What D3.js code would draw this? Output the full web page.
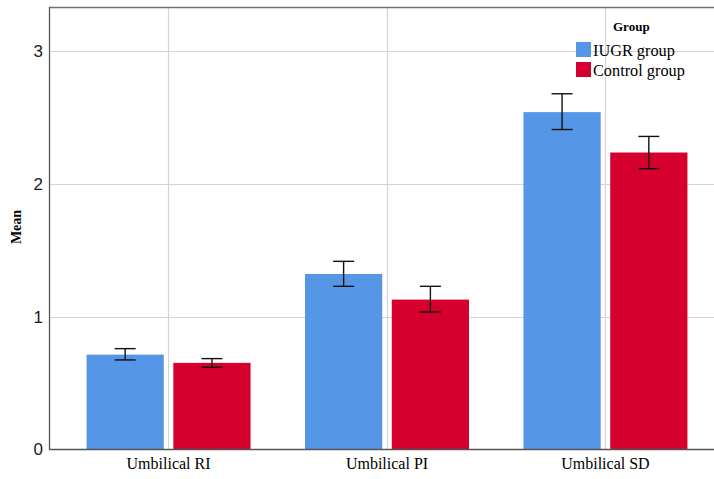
<!DOCTYPE html>
<html>
<head>
<meta charset="utf-8">
<script src="https://cdn.jsdelivr.net/npm/d3@7"></script>
<style>
  html, body { margin: 0; padding: 0; background: #fff; }
  svg { display: block; }
</style>
</head>
<body>
<svg id="chart" width="714" height="479"></svg>
<script>
// Umbilical Doppler indices: group means with error bars
const categories = ["Umbilical RI", "Umbilical PI", "Umbilical SD"];
const groups = ["IUGR group", "Control group"];
const iugrMean = [0.714, 1.321, 2.539];
const iugrLow = [0.674, 1.228, 2.408];
const iugrHigh = [0.759, 1.416, 2.677];
const controlMean = [0.652, 1.128, 2.235];
const controlLow = [0.619, 1.035, 2.113];
const controlHigh = [0.684, 1.228, 2.356];
const yTicks = [0, 1, 2, 3];
const colors = ["#5596e6", "#d6002f"];

const rows = [];
categories.forEach((c, i) => {
  rows.push({ cat: c, group: groups[0], mean: iugrMean[i], lo: iugrLow[i], hi: iugrHigh[i] });
  rows.push({ cat: c, group: groups[1], mean: controlMean[i], lo: controlLow[i], hi: controlHigh[i] });
});

const svg = d3.select("#chart");
const plotLeft = 49, plotTop = 7, plotBottom = 449.5, plotRight = 724;

const y = d3.scaleLinear().domain([0, 3.33]).range([plotBottom, plotTop]);
const x = d3.scalePoint().domain(categories).range([plotLeft, plotRight]).padding(0.545);
const xSub = d3.scaleBand().domain(groups).range([-81.5, 82.5]).paddingInner(0.11);
const color = d3.scaleOrdinal().domain(groups).range(colors);

// grid lines
const grid = svg.append("g");
grid.selectAll("line.h").data(yTicks.filter(d => d > 0)).join("line")
  .attr("x1", plotLeft).attr("x2", 714)
  .attr("y1", d => Math.round(y(d)) + 0.5).attr("y2", d => Math.round(y(d)) + 0.5)
  .attr("stroke", "#d4d4d4").attr("stroke-width", 1.2);
grid.selectAll("line.v").data(categories).join("line")
  .attr("x1", d => Math.round(x(d)) + 0.5).attr("x2", d => Math.round(x(d)) + 0.5)
  .attr("y1", plotTop).attr("y2", plotBottom)
  .attr("stroke", "#d4d4d4").attr("stroke-width", 1.2);

// bars
svg.append("g").selectAll("rect").data(rows).join("rect")
  .attr("x", d => x(d.cat) + xSub(d.group))
  .attr("width", xSub.bandwidth())
  .attr("y", d => y(d.mean))
  .attr("height", d => y(0) - y(d.mean))
  .attr("fill", d => color(d.group));

// error bars
const eb = svg.append("g").attr("stroke", "#111").attr("stroke-width", 1.4);
rows.forEach(d => {
  const cx = x(d.cat) + xSub(d.group) + xSub.bandwidth() / 2;
  eb.append("line").attr("x1", cx).attr("x2", cx).attr("y1", y(d.hi)).attr("y2", y(d.lo));
  eb.append("line").attr("x1", cx - 10.5).attr("x2", cx + 10.5).attr("y1", y(d.hi)).attr("y2", y(d.hi));
  eb.append("line").attr("x1", cx - 10.5).attr("x2", cx + 10.5).attr("y1", y(d.lo)).attr("y2", y(d.lo));
});

// frame: top border, left and bottom axis lines
svg.append("line").attr("x1", plotLeft).attr("x2", 714).attr("y1", plotTop + 0.5).attr("y2", plotTop + 0.5)
  .attr("stroke", "#6e6e6e").attr("stroke-width", 1.3);
svg.append("line").attr("x1", plotLeft + 0.5).attr("x2", plotLeft + 0.5).attr("y1", plotTop).attr("y2", plotBottom)
  .attr("stroke", "#555").attr("stroke-width", 1.3);
svg.append("line").attr("x1", plotLeft).attr("x2", 714).attr("y1", plotBottom).attr("y2", plotBottom)
  .attr("stroke", "#555").attr("stroke-width", 1.3);

// y axis labels
const yAxis = svg.append("g").attr("transform", `translate(${plotLeft},0)`)
  .call(d3.axisLeft(y).tickValues(yTicks).tickSize(0).tickPadding(6).tickFormat(d3.format("d")));
yAxis.select(".domain").remove();
yAxis.selectAll("text").attr("font-family", "'Liberation Sans', Arial, sans-serif")
  .attr("font-size", 17).attr("fill", "#1a1a1a");

// x axis labels
const xAxis = svg.append("g").attr("transform", `translate(0,${plotBottom})`)
  .call(d3.axisBottom(x).tickSize(0).tickPadding(8));
xAxis.select(".domain").remove();
xAxis.selectAll("text").attr("font-family", "'Liberation Serif', 'Times New Roman', serif")
  .attr("font-size", 16).attr("fill", "#000");

// y axis title
svg.append("text")
  .attr("transform", "translate(21,227) rotate(-90)")
  .attr("text-anchor", "middle")
  .attr("font-family", "'Liberation Serif', 'Times New Roman', serif")
  .attr("font-weight", "bold").attr("font-size", 14).attr("fill", "#000")
  .text("Mean");

// legend
const legend = svg.append("g");
legend.append("text").attr("x", 613).attr("y", 31)
  .attr("font-family", "'Liberation Serif', 'Times New Roman', serif")
  .attr("font-weight", "bold").attr("font-size", 13).attr("fill", "#000")
  .text("Group");
groups.forEach((g, i) => {
  legend.append("rect").attr("x", 576).attr("y", 42 + i * 20).attr("width", 15).attr("height", 15)
    .attr("fill", color(g));
  legend.append("text").attr("x", 593).attr("y", 56 + i * 20)
    .attr("font-family", "'Liberation Serif', 'Times New Roman', serif")
    .attr("font-size", 16.3).attr("fill", "#000")
    .text(g);
});
</script>
</body>
</html>
